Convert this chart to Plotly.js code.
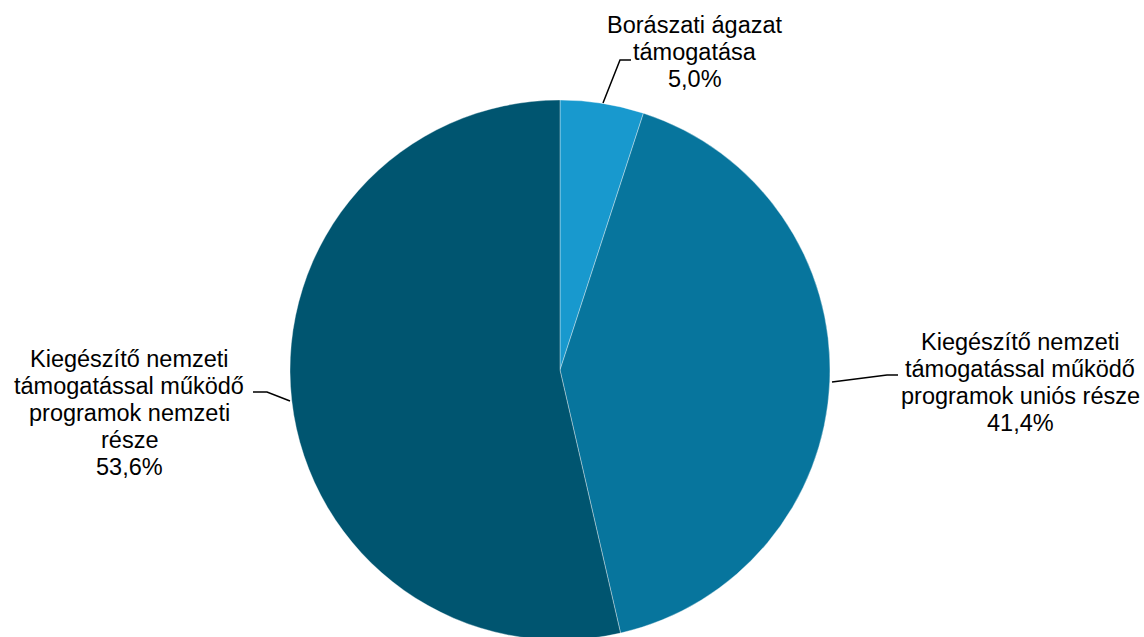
<!DOCTYPE html>
<html>
<head>
<meta charset="utf-8">
<script src="https://cdn.plot.ly/plotly-3.0.1.min.js"></script>
<style>
  html, body { margin: 0; padding: 0; background: #ffffff; overflow: hidden; }
  #chart { width: 1144px; height: 642px; }
</style>
</head>
<body>
<div id="chart"></div>
<script>
// ---- data ----
const categories = [
  "Borászati ágazat támogatása",
  "Kiegészítő nemzeti támogatással működő programok uniós része",
  "Kiegészítő nemzeti támogatással működő programok nemzeti része"
];
const values = [5.0, 41.4, 53.6];
const valueLabels = ["5,0%", "41,4%", "53,6%"];
const labelLines = [
  ["Borászati ágazat", "támogatása"],
  ["Kiegészítő nemzeti", "támogatással működő", "programok uniós része"],
  ["Kiegészítő nemzeti", "támogatással működő", "programok nemzeti", "része"]
];
const colors = ["#1899CE", "#07759D", "#005570"];

// ---- layout helpers (pixel -> paper) ----
const W = 1144, H = 642;
const px = x => x / W;
const py = y => 1 - y / H;

// label block placement (center x, first line center y), line step
const labelPos = [
  { x: 695, y: 25 },
  { x: 1020, y: 342 },
  { x: 129, y: 359 }
];
const lineStep = 27;

// leader lines (pixel polylines)
const leaders = [
  [[603, 103], [620, 60], [631, 60]],
  [[832, 382], [887, 375], [898, 375]],
  [[290, 401], [267, 392], [253, 392]]
];

const annotations = [];
categories.forEach((c, i) => {
  const lines = labelLines[i].concat([valueLabels[i]]);
  lines.forEach((t, k) => {
    annotations.push({
      text: t,
      x: px(labelPos[i].x),
      y: py(labelPos[i].y + k * lineStep),
      xref: "paper", yref: "paper",
      xanchor: "center", yanchor: "middle",
      showarrow: false,
      font: { family: "Liberation Sans, Arial, sans-serif", size: 23.5, color: "#000000" }
    });
  });
});

const shapes = leaders.map(pts => ({
  type: "path",
  xref: "paper", yref: "paper",
  path: pts.map((p, k) => (k === 0 ? "M" : "L") + px(p[0]) + "," + py(p[1])).join(" "),
  line: { color: "#000000", width: 1.5 },
  fillcolor: "rgba(0,0,0,0)"
}));

const trace = {
  type: "pie",
  labels: categories,
  values: values,
  sort: false,
  direction: "clockwise",
  rotation: 0,
  textinfo: "none",
  hoverinfo: "label+percent",
  marker: { colors: colors, line: { color: "rgba(255,255,255,0.6)", width: 0.6 } },
  domain: { x: [px(290), px(830)], y: [py(640), py(100)] },
  showlegend: false
};

const layout = {
  width: W, height: H,
  margin: { l: 0, r: 0, t: 0, b: 0 },
  paper_bgcolor: "#ffffff",
  plot_bgcolor: "#ffffff",
  showlegend: false,
  annotations: annotations,
  shapes: shapes
};

Plotly.newPlot("chart", [trace], layout, { staticPlot: true, displayModeBar: false });
</script>
</body>
</html>
